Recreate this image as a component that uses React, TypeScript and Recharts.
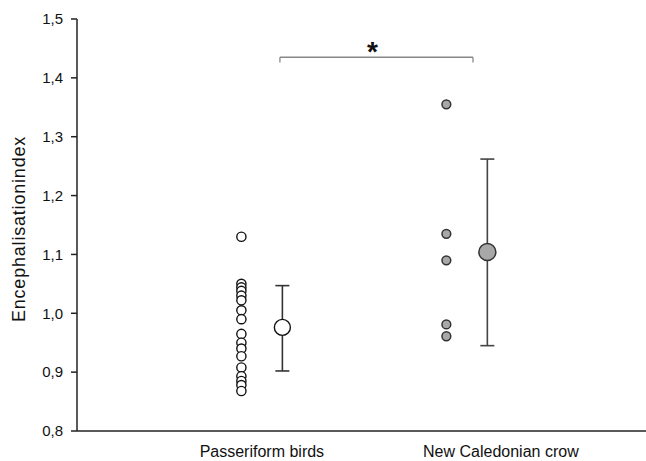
import React from "react";
import {
  ComposedChart,
  Scatter,
  XAxis,
  YAxis,
  ErrorBar,
  ReferenceLine,
  ReferenceDot,
} from "recharts";

const categories = ["Passeriform birds", "New Caledonian crow"];
const labelPositions = [1, 2.166];
const groupPositions = [1, 2];
const dotOffset = -0.1;
const meanOffset = 0.1;

const passeriformValues = [
  1.13, 1.05, 1.044, 1.038, 1.03, 1.022, 1.005, 0.99, 0.965, 0.95, 0.94,
  0.927, 0.908, 0.893, 0.885, 0.878, 0.868,
];
const crowValues = [1.355, 1.135, 1.09, 0.981, 0.961];

const means = [0.976, 1.104];
const lowerBounds = [0.902, 0.945];
const upperBounds = [1.047, 1.262];

const yTicks = [0.8, 0.9, 1.0, 1.1, 1.2, 1.3, 1.4, 1.5];
const bracketLeft = 1.088;
const bracketRight = 2.03;
const bracketTop = 1.435;
const bracketFoot = 1.426;
const starX = 1.54;
const starY = 1.452;

const FONT = "'Liberation Sans', Arial, Helvetica, sans-serif";

const passerData = passeriformValues.map((v) => ({
  x: groupPositions[0] + dotOffset,
  y: v,
}));
const crowData = crowValues.map((v) => ({
  x: groupPositions[1] + dotOffset,
  y: v,
}));
const passerMean = [
  {
    x: groupPositions[0] + meanOffset,
    y: means[0],
    err: [means[0] - lowerBounds[0], upperBounds[0] - means[0]],
  },
];
const crowMean = [
  {
    x: groupPositions[1] + meanOffset,
    y: means[1],
    err: [means[1] - lowerBounds[1], upperBounds[1] - means[1]],
  },
];

const makeCircle = (r: number, fill: string, stroke: string, sw: number) =>
  (props: any) => {
    if (props.cx == null || props.cy == null) return <g />;
    return (
      <circle
        cx={props.cx}
        cy={props.cy}
        r={r}
        fill={fill}
        stroke={stroke}
        strokeWidth={sw}
      />
    );
  };

const YLabel = (props: any) => {
  const vb = props.viewBox || {};
  const cx = (vb.x || 0) + 25;
  const cy = (vb.y || 0) + (vb.height || 0) / 2 + 4;
  return (
    <text
      x={cx}
      y={cy}
      transform={`rotate(-90, ${cx}, ${cy})`}
      textAnchor="middle"
      fontFamily={FONT}
      fontSize={18}
      letterSpacing={0.8}
      fill="#111"
    >
      Encephalisationindex
    </text>
  );
};

const StarLabel = (props: any) => {
  const vb = props.viewBox || {};
  const x = vb.x + (vb.width || 0) / 2;
  const y = vb.y + (vb.height || 0) / 2;
  return (
    <text
      x={x}
      y={y + 14}
      textAnchor="middle"
      fontFamily={FONT}
      fontWeight="bold"
      fontSize={28}
      fill="#111"
    >
      *
    </text>
  );
};

export default function App() {
  return (
    <div style={{ position: "absolute", left: 0, top: 0 }}>
      <ComposedChart
        width={646}
        height={461}
        margin={{ top: 19, right: 0, bottom: 0, left: 0 }}
      >
        <XAxis
          type="number"
          dataKey="x"
          domain={[0.098, 2.874]}
          allowDataOverflow
          ticks={labelPositions}
          tickFormatter={(v: number) => categories[labelPositions.indexOf(v)]}
          tickLine={false}
          tickSize={0}
          tickMargin={15}
          height={30}
          axisLine={{ stroke: "#222", strokeWidth: 1.5 }}
          tick={{ fontFamily: FONT, fontSize: 16, fill: "#111" }}
          interval={0}
        />
        <YAxis
          type="number"
          dataKey="y"
          domain={[0.8, 1.5]}
          allowDataOverflow
          ticks={yTicks}
          tickFormatter={(v: number) => v.toFixed(1).replace(".", ",")}
          width={77}
          tickSize={6}
          tickMargin={8}
          axisLine={{ stroke: "#222", strokeWidth: 1.5 }}
          tickLine={{ stroke: "#222", strokeWidth: 1.5 }}
          tick={{ fontFamily: FONT, fontSize: 15, fill: "#111" }}
          interval={0}
          label={<YLabel />}
        />
        <ReferenceLine
          segment={[
            { x: bracketLeft, y: bracketFoot },
            { x: bracketLeft, y: bracketTop },
          ]}
          stroke="#888"
          strokeWidth={1.3}
          ifOverflow="visible"
        />
        <ReferenceLine
          segment={[
            { x: bracketLeft, y: bracketTop },
            { x: bracketRight, y: bracketTop },
          ]}
          stroke="#888"
          strokeWidth={1.3}
          ifOverflow="visible"
        />
        <ReferenceLine
          segment={[
            { x: bracketRight, y: bracketFoot },
            { x: bracketRight, y: bracketTop },
          ]}
          stroke="#888"
          strokeWidth={1.3}
          ifOverflow="visible"
        />
        <ReferenceDot
          x={starX}
          y={starY}
          r={0}
          fill="none"
          stroke="none"
          ifOverflow="visible"
          label={<StarLabel />}
        />
        <Scatter
          data={passerData}
          isAnimationActive={false}
          shape={makeCircle(4.6, "#fff", "#111", 1.4)}
        />
        <Scatter
          data={crowData}
          isAnimationActive={false}
          shape={makeCircle(4.4, "#a8a8a8", "#333", 1.5)}
        />
        <Scatter
          data={passerMean}
          isAnimationActive={false}
          shape={makeCircle(8, "#fff", "#111", 1.4)}
        >
          <ErrorBar
            dataKey="err"
            direction="y"
            width={7}
            stroke="#333"
            strokeWidth={1.6}
          />
        </Scatter>
        <Scatter
          data={crowMean}
          isAnimationActive={false}
          shape={makeCircle(8.5, "#a8a8a8", "#333", 1.5)}
        >
          <ErrorBar
            dataKey="err"
            direction="y"
            width={7}
            stroke="#444"
            strokeWidth={1.6}
          />
        </Scatter>
      </ComposedChart>
    </div>
  );
}
